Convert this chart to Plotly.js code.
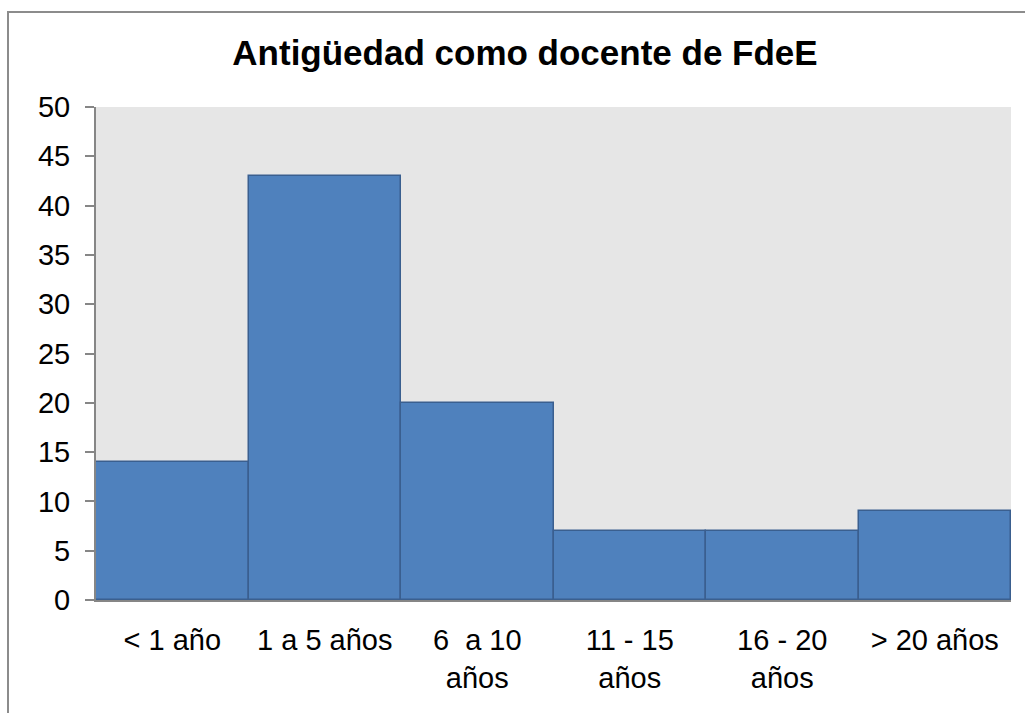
<!DOCTYPE html>
<html>
<head>
<meta charset="utf-8">
<script src="https://cdn.plot.ly/plotly-3.0.1.min.js"></script>
<style>
html,body{margin:0;padding:0;background:#fff;}
#chart{width:1025px;height:713px;}
</style>
</head>
<body>
<div id="chart"></div>
<script>
const categories = ["< 1 año", "1 a 5 años", "6  a 10<br>años", "11 - 15<br>años", "16 - 20<br>años", "> 20 años"];
const values = [14, 43, 20, 7, 7, 9];
const yTicks = [0, 5, 10, 15, 20, 25, 30, 35, 40, 45, 50];
const chartTitle = "Antigüedad como docente de FdeE";

const trace = {
  type: "bar",
  x: categories,
  y: values,
  marker: {color: "#4f81bd", line: {color: "#3a5f8f", width: 1.5}},
  hoverinfo: "x+y"
};

const layout = {
  width: 1025,
  height: 713,
  margin: {l: 96, r: 14, t: 107, b: 113},
  paper_bgcolor: "#ffffff",
  plot_bgcolor: "#e6e6e6",
  bargap: 0,
  showlegend: false,
  font: {family: "Liberation Sans, Arial, sans-serif", color: "#000000", size: 29},
  title: {
    text: "<b>" + chartTitle + "</b>",
    font: {family: "Liberation Sans, Arial, sans-serif", size: 35, color: "#000000"},
    x: 525 / 1025, xref: "container", xanchor: "center",
    y: 1 - 53 / 713, yref: "container", yanchor: "middle"
  },
  xaxis: {
    type: "category",
    showline: true, linecolor: "#868686", linewidth: 2,
    ticks: "", showgrid: false, zeroline: false,
    tickfont: {size: 29, color: "#000000"},
    ticklabelstandoff: 13,
    fixedrange: true
  },
  yaxis: {
    range: [0, 50],
    tickvals: yTicks,
    showline: true, linecolor: "#868686", linewidth: 2,
    ticks: "outside", ticklen: 9, tickcolor: "#868686", tickwidth: 2,
    showgrid: false, zeroline: false,
    tickfont: {size: 29, color: "#000000"},
    ticklabelstandoff: 9,
    fixedrange: true
  },
  shapes: [{
    type: "rect", xref: "paper", yref: "paper",
    x0: (8 - 96) / 915, x1: 1.1,
    y0: -0.4, y1: (600 - 12) / 493,
    line: {color: "#8c8c8c", width: 2}, fillcolor: "rgba(0,0,0,0)", layer: "below"
  }]
};

Plotly.newPlot("chart", [trace], layout, {displayModeBar: false, responsive: false});
</script>
</body>
</html>
